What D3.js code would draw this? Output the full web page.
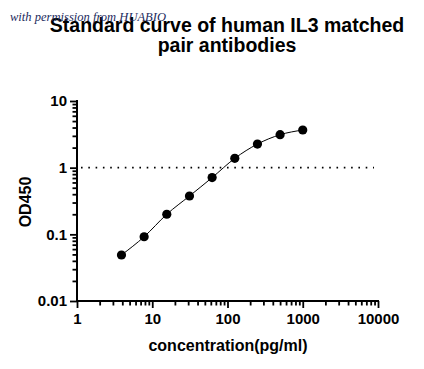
<!DOCTYPE html>
<html>
<head>
<meta charset="utf-8">
<script src="https://cdn.jsdelivr.net/npm/d3@7"></script>
<style>
  html, body { margin: 0; padding: 0; background: #fff; }
  svg { display: block; }
  text { font-family: "Liberation Sans", Arial, sans-serif; }
</style>
</head>
<body>
<svg id="chart" width="424" height="369"></svg>
<script>
// ---- data ----
const concentrations = [3.9, 7.8, 15.6, 31.25, 62.5, 125, 250, 500, 1000];
const od450 = [0.049, 0.092, 0.20, 0.376, 0.71, 1.38, 2.26, 3.12, 3.67];
const xTickValues = [1, 10, 100, 1000, 10000];
const xTickLabels = ["1", "10", "100", "1000", "10000"];
const yTickValues = [0.01, 0.1, 1, 10];
const yTickLabels = ["0.01", "0.1", "1", "10"];
const referenceLine = [1];
const titleLines = ["Standard curve of human IL3 matched", "pair antibodies"];
const xTitle = "concentration(pg/ml)";
const yTitle = "OD450";
const watermark = "with permission from HUABIO";

// ---- layout ----
const svg = d3.select("#chart");
const x = d3.scaleLog().domain([1, 10000]).range([77, 378]);
const y = d3.scaleLog().domain([0.01, 10]).range([301, 101]);

function minorTicks(lo, hi) {
  const out = [];
  for (let d = lo; d < hi; d *= 10) {
    for (let k = 2; k <= 9; k++) out.push(d * k);
  }
  return out;
}

const axisColor = "#000";

// x axis
const gx = svg.append("g").attr("transform", `translate(0,${y(0.01)})`);
gx.call(d3.axisBottom(x).tickValues(minorTicks(1, 10000)).tickSize(4.5).tickFormat(""))
  .call(g => g.select(".domain").remove())
  .call(g => g.selectAll(".tick line").attr("stroke", axisColor).attr("stroke-width", 1.8));
gx.append("g")
  .call(d3.axisBottom(x).tickValues(xTickValues).tickSize(7).tickPadding(5)
        .tickFormat((d, i) => xTickLabels[i]))
  .call(g => g.select(".domain").remove())
  .call(g => g.selectAll(".tick line").attr("stroke", axisColor).attr("stroke-width", 1.8))
  .call(g => g.selectAll(".tick text").attr("fill", "#000")
        .style("font-size", "15px").style("font-weight", "bold")
        .style("font-family", "'Liberation Sans', Arial, sans-serif"));

// y axis
const gy = svg.append("g").attr("transform", `translate(${x(1)},0)`);
gy.call(d3.axisLeft(y).tickValues(minorTicks(0.01, 10)).tickSize(4.5).tickFormat(""))
  .call(g => g.select(".domain").remove())
  .call(g => g.selectAll(".tick line").attr("stroke", axisColor).attr("stroke-width", 1.8));
gy.append("g")
  .call(d3.axisLeft(y).tickValues(yTickValues).tickSize(7).tickPadding(3)
        .tickFormat((d, i) => yTickLabels[i]))
  .call(g => g.select(".domain").remove())
  .call(g => g.selectAll(".tick line").attr("stroke", axisColor).attr("stroke-width", 1.8))
  .call(g => g.selectAll(".tick text").attr("fill", "#000")
        .style("font-size", "15px").style("font-weight", "bold")
        .style("font-family", "'Liberation Sans', Arial, sans-serif"));

// axis lines
svg.append("line")
  .attr("x1", x(1) - 1).attr("x2", x(10000) + 1)
  .attr("y1", y(0.01)).attr("y2", y(0.01))
  .attr("stroke", axisColor).attr("stroke-width", 2);
svg.append("line")
  .attr("x1", x(1)).attr("x2", x(1))
  .attr("y1", y(0.01) + 1).attr("y2", y(10) - 1)
  .attr("stroke", axisColor).attr("stroke-width", 2);

// reference dotted line
svg.selectAll("line.ref").data(referenceLine).enter().append("line")
  .attr("class", "ref")
  .attr("x1", x(1) + 4).attr("x2", x(10000) - 4)
  .attr("y1", d => y(d)).attr("y2", d => y(d))
  .attr("stroke", "#000").attr("stroke-width", 1.6)
  .attr("stroke-dasharray", "1.6,5.7");

// curve
const pts = concentrations.map((c, i) => [c, od450[i]]);
svg.append("path")
  .datum(pts)
  .attr("fill", "none")
  .attr("stroke", "#000")
  .attr("stroke-width", 1)
  .attr("d", d3.line().x(d => x(d[0])).y(d => y(d[1])).curve(d3.curveMonotoneX));

// points
svg.selectAll("circle.pt").data(pts).enter().append("circle")
  .attr("class", "pt")
  .attr("cx", d => x(d[0])).attr("cy", d => y(d[1]))
  .attr("r", 4.6).attr("fill", "#000");

// axis titles
svg.append("text")
  .attr("x", 228).attr("y", 351)
  .attr("text-anchor", "middle")
  .style("font-size", "16px").style("font-weight", "bold")
  .text(xTitle);
svg.append("text")
  .attr("transform", "translate(31,202) rotate(-90)")
  .attr("text-anchor", "middle")
  .style("font-size", "16px").style("font-weight", "bold")
  .text(yTitle);

// title
svg.selectAll("text.title").data(titleLines).enter().append("text")
  .attr("class", "title")
  .attr("x", 227).attr("y", (d, i) => 32 + i * 20)
  .attr("text-anchor", "middle")
  .style("font-size", "19.5px").style("font-weight", "bold")
  .text(d => d);

// watermark
svg.append("text")
  .attr("x", 10).attr("y", 21)
  .style("font-family", "'Liberation Serif', 'DejaVu Serif', serif")
  .style("font-style", "italic")
  .style("font-size", "13px")
  .attr("textLength", 156)
  .attr("lengthAdjust", "spacingAndGlyphs")
  .attr("fill", "#1c2b5e")
  .text(watermark);
</script>
</body>
</html>
